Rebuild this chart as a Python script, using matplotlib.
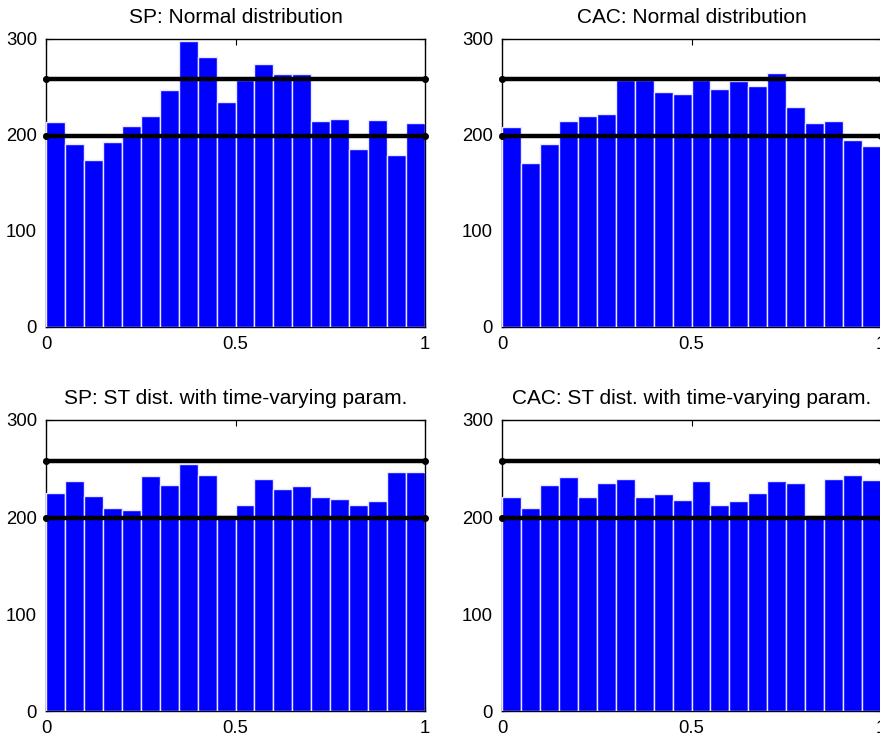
import numpy as np
import matplotlib
matplotlib.use('Agg')
import matplotlib.pyplot as plt

# ── Data: histogram counts (20 bins on [0, 1]) ────────────────────────────────

titles = [
    'SP: Normal distribution',
    'CAC: Normal distribution',
    'SP: ST dist. with time-varying param.',
    'CAC: ST dist. with time-varying param.',
]

sp_normal = [213, 191, 174, 193, 209, 220, 247, 298, 281, 234,
             257, 274, 264, 263, 214, 217, 185, 215, 179, 212]
cac_normal = [208, 171, 191, 214, 220, 222, 257, 257, 245, 243,
              257, 248, 256, 251, 265, 229, 212, 214, 195, 188]
sp_st = [225, 237, 222, 209, 207, 242, 233, 255, 243, 202,
         212, 239, 229, 232, 221, 219, 212, 217, 246, 246]
cac_st = [221, 209, 233, 241, 221, 235, 239, 221, 224, 218,
          237, 212, 217, 225, 237, 235, 202, 239, 243, 238]

# confidence band levels
band_lo = 199
band_hi = 258

yticks = [0, 100, 200, 300]
xticks = [0, 0.5, 1]
xticklabels = ['0', '0.5', '1']

# ── Plot ──────────────────────────────────────────────────────────────────────

plt.rcParams['font.family'] = ['Liberation Sans', 'DejaVu Sans']

fig = plt.figure(figsize=(8.8, 7.34), dpi=100)

positions = [
    [0.0523, 0.5549, 0.4307, 0.392],
    [0.5705, 0.5549, 0.4307, 0.392],
    [0.0523, 0.0313, 0.4307, 0.3965],
    [0.5705, 0.0313, 0.4307, 0.3965],
]
series = [sp_normal, cac_normal, sp_st, cac_st]

for pos, title, counts in zip(positions, titles, series):
    ax = fig.add_axes(pos)
    n = len(counts)
    edges = np.linspace(0, 1, n + 1)
    centers = (edges[:-1] + edges[1:]) / 2
    ax.bar(centers, counts, width=1 / n, color='#0000ff',
           edgecolor='#e8e8ff', linewidth=1.0, zorder=3)
    for lvl in (band_lo, band_hi):
        ax.plot([0, 1], [lvl, lvl], color='black', linewidth=3.2,
                marker='o', markersize=4, zorder=4, clip_on=False)
    ax.set_xlim(0, 1)
    ax.set_ylim(0, 300)
    ax.set_xticks(xticks)
    ax.set_xticklabels(xticklabels)
    ax.set_yticks(yticks)
    ax.tick_params(direction='in', top=True, right=True, length=4,
                   labelsize=13.3, pad=6.5)
    for s in ax.spines.values():
        s.set_linewidth(1.0)
    ax.set_title(title, fontsize=15, pad=11.5)

plt.savefig('out.png', dpi=100)
plt.close()
